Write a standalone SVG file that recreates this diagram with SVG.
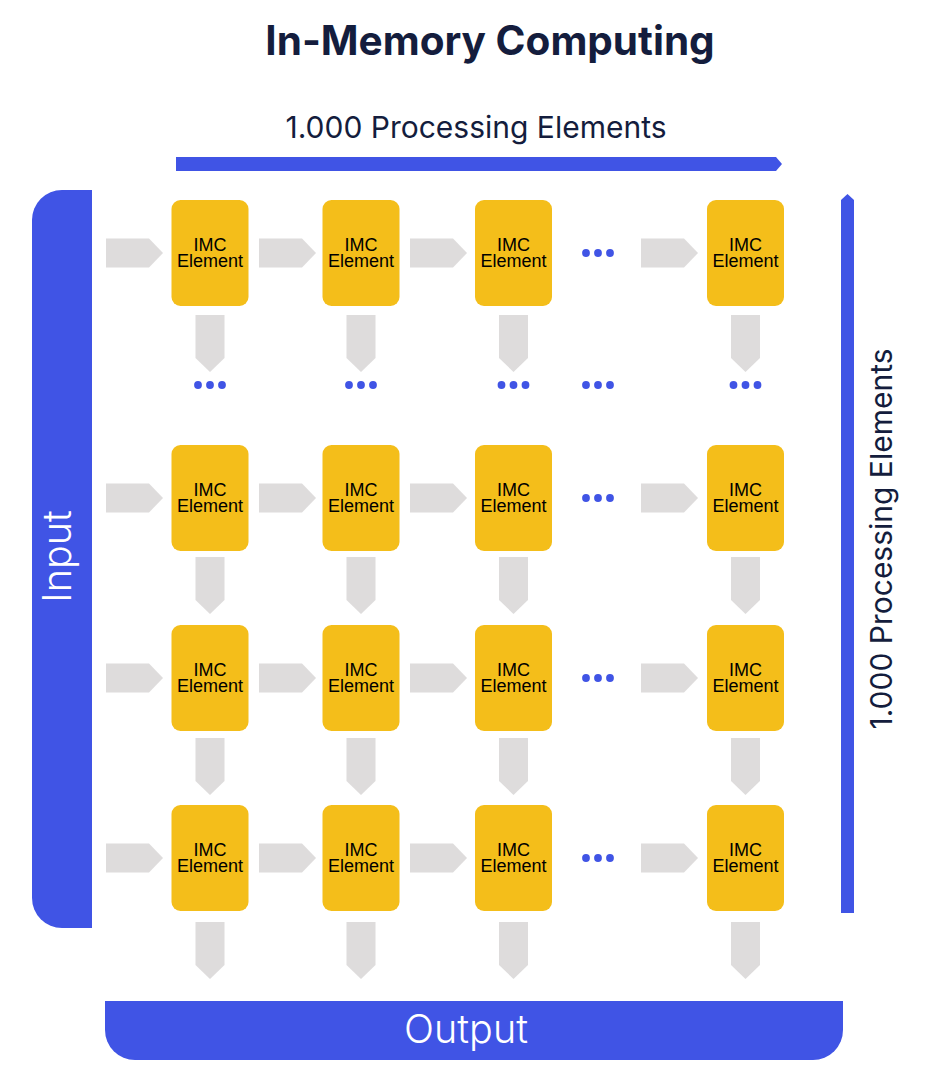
<svg xmlns="http://www.w3.org/2000/svg" width="927" height="1084" viewBox="0 0 927 1084">
<defs>
<style>
.el{fill:#F4BE1A}
.et{font-family:"Liberation Sans",Arial,sans-serif;font-size:18px;fill:#000;text-anchor:middle}
.ar{fill:#DEDCDC}
.dot{fill:#4054E5}
.blue{fill:#4054E5}
.lbl{font-family:Inter,"Noto Sans",sans-serif;font-size:30px;fill:#141D3D;text-anchor:middle}
.wl{font-family:Inter,"Noto Sans",sans-serif;font-size:39.5px;font-weight:300;fill:#fff;text-anchor:middle}
</style>
<path id="ra" d="M0,-14.5 H43 L57,0 L43,14.5 H0 Z"/>
<path id="da" d="M-14.5,0 V43 L0,57 L14.5,43 V0 Z"/>
<g id="dots"><circle cx="-12" cy="0" r="3.9"/><circle cx="0" cy="0" r="3.9"/><circle cx="12" cy="0" r="3.9"/></g>
<g id="imc"><rect x="-38.5" y="-53" width="77" height="106" rx="9" class="el"/><text class="et" y="-2">IMC</text><text class="et" y="14">Element</text></g>
</defs>
<rect width="927" height="1084" fill="#fff"/>
<text x="490" y="55" font-family="Inter,'Noto Sans',sans-serif" font-size="40.5" font-weight="700" fill="#141D3D" text-anchor="middle">In-Memory Computing</text>
<g id="top-axis">
<text class="lbl" x="476" y="138">1.000 Processing Elements</text>
<path class="blue" d="M176,157 H776 L782,164 L776,171 H176 Z"/>
</g>
<g id="right-axis">
<path class="blue" d="M841,913 V200 L847.5,194 L854,200 V913 Z"/>
<text class="lbl" transform="translate(892,539) rotate(-90)">1.000 Processing Elements</text>
</g>
<g id="input">
<path class="blue" d="M92,190 V928 H62 A30,30 0 0 1 32,898 V220 A30,30 0 0 1 62,190 Z"/>
<text class="wl" transform="translate(71,556.5) rotate(-90)">Input</text>
</g>
<g id="output">
<path class="blue" d="M105,1001 H843 V1030 A30,30 0 0 1 813,1060 H135 A30,30 0 0 1 105,1030 Z"/>
<text class="wl" x="466" y="1043">Output</text>
</g>
<g id="connectors" class="ar">
<use href="#ra" x="106" y="253"/><use href="#ra" x="259" y="253"/><use href="#ra" x="410" y="253"/><use href="#ra" x="641" y="253"/>
<use href="#ra" x="106" y="498"/><use href="#ra" x="259" y="498"/><use href="#ra" x="410" y="498"/><use href="#ra" x="641" y="498"/>
<use href="#ra" x="106" y="678"/><use href="#ra" x="259" y="678"/><use href="#ra" x="410" y="678"/><use href="#ra" x="641" y="678"/>
<use href="#ra" x="106" y="858"/><use href="#ra" x="259" y="858"/><use href="#ra" x="410" y="858"/><use href="#ra" x="641" y="858"/>
<use href="#da" x="210" y="315"/><use href="#da" x="361" y="315"/><use href="#da" x="513.5" y="315"/><use href="#da" x="745.5" y="315"/>
<use href="#da" x="210" y="557"/><use href="#da" x="361" y="557"/><use href="#da" x="513.5" y="557"/><use href="#da" x="745.5" y="557"/>
<use href="#da" x="210" y="738"/><use href="#da" x="361" y="738"/><use href="#da" x="513.5" y="738"/><use href="#da" x="745.5" y="738"/>
<use href="#da" x="210" y="922"/><use href="#da" x="361" y="922"/><use href="#da" x="513.5" y="922"/><use href="#da" x="745.5" y="922"/>
</g>
<g id="ellipses" class="dot">
<use href="#dots" x="598" y="253"/><use href="#dots" x="598" y="498"/><use href="#dots" x="598" y="678"/><use href="#dots" x="598" y="858"/>
<use href="#dots" x="210" y="385"/><use href="#dots" x="361" y="385"/><use href="#dots" x="513.5" y="385"/><use href="#dots" x="598" y="385"/><use href="#dots" x="745.5" y="385"/>
</g>
<g id="e-1-1"><use href="#imc" x="210" y="253"/></g>
<g id="e-1-2"><use href="#imc" x="361" y="253"/></g>
<g id="e-1-3"><use href="#imc" x="513.5" y="253"/></g>
<g id="e-1-4"><use href="#imc" x="745.5" y="253"/></g>
<g id="e-2-1"><use href="#imc" x="210" y="498"/></g>
<g id="e-2-2"><use href="#imc" x="361" y="498"/></g>
<g id="e-2-3"><use href="#imc" x="513.5" y="498"/></g>
<g id="e-2-4"><use href="#imc" x="745.5" y="498"/></g>
<g id="e-3-1"><use href="#imc" x="210" y="678"/></g>
<g id="e-3-2"><use href="#imc" x="361" y="678"/></g>
<g id="e-3-3"><use href="#imc" x="513.5" y="678"/></g>
<g id="e-3-4"><use href="#imc" x="745.5" y="678"/></g>
<g id="e-4-1"><use href="#imc" x="210" y="858"/></g>
<g id="e-4-2"><use href="#imc" x="361" y="858"/></g>
<g id="e-4-3"><use href="#imc" x="513.5" y="858"/></g>
<g id="e-4-4"><use href="#imc" x="745.5" y="858"/></g>
</svg>
